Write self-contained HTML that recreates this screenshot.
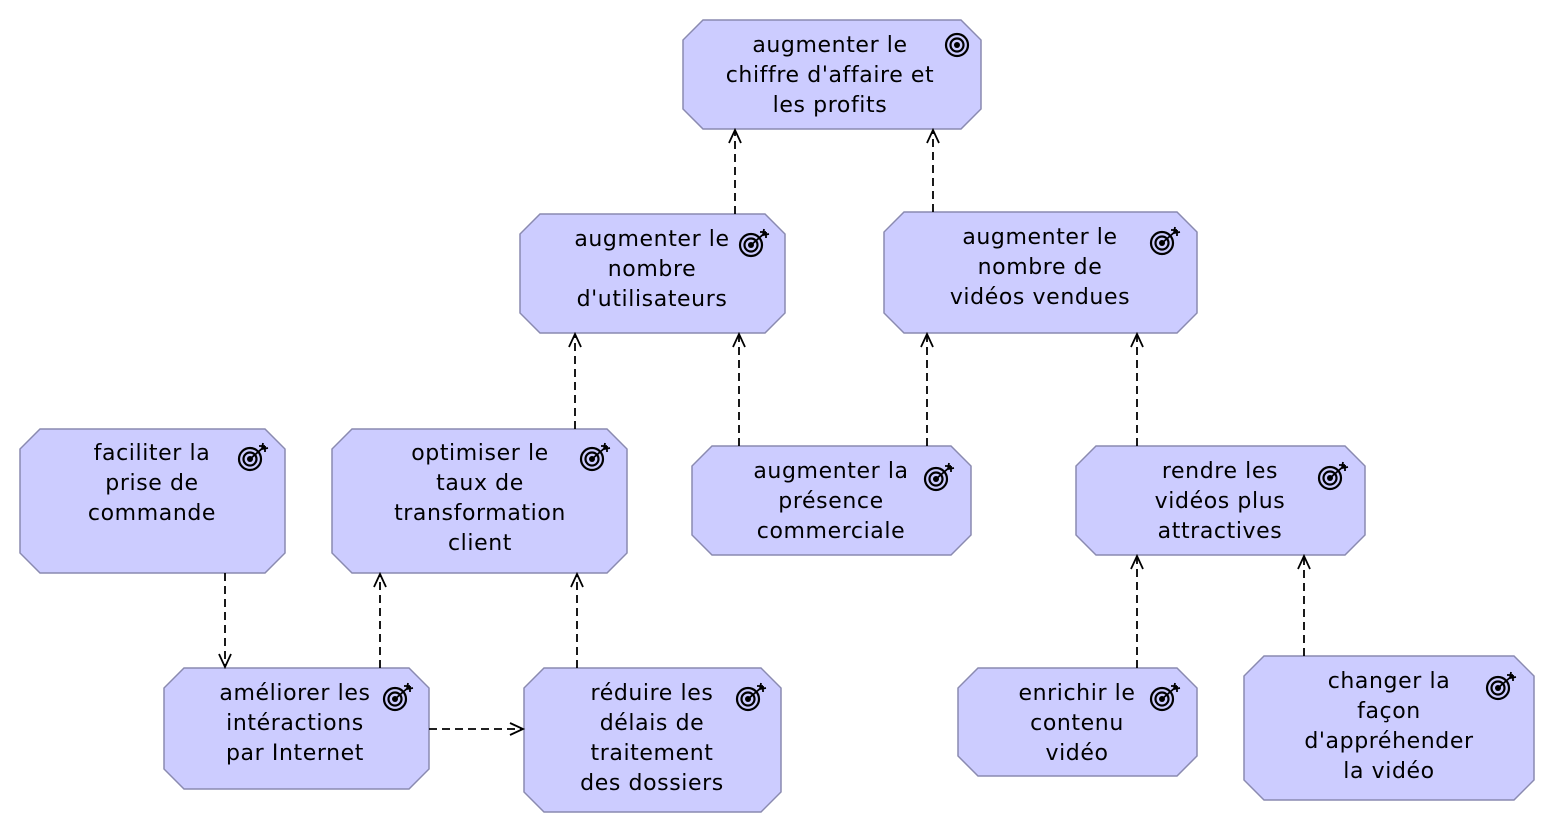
<!DOCTYPE html>
<html><head><meta charset="utf-8"><style>
html,body{margin:0;padding:0;background:#fff;}
svg{display:block;}
text{font-family:"DejaVu Sans","Liberation Sans",sans-serif;font-size:22px;letter-spacing:0.6px;fill:#000;text-anchor:middle;}
</style></head><body>
<svg width="1554" height="834" viewBox="0 0 1554 834" xmlns="http://www.w3.org/2000/svg">
<defs>
<g id="tg"><circle r="11" fill="none" stroke="#000" stroke-width="2.2"/><circle r="6.5" fill="none" stroke="#000" stroke-width="2.2"/><circle r="3" fill="#000"/></g>
<g id="ta"><use href="#tg"/><path d="M0 0 L15 -13 M15 -13 L9 -13 M15 -13 L15 -7 M13 -16 L12 -10 L18 -11" fill="none" stroke="#000" stroke-width="1.8"/></g>
</defs>
<g fill="#CCCCFF" stroke="#8a8ab0" stroke-width="1.5">
<polygon points="703,20 961,20 981,40 981,109 961,129 703,129 683,109 683,40"/>
<polygon points="540,214 765,214 785,234 785,313 765,333 540,333 520,313 520,234"/>
<polygon points="904,212 1177,212 1197,232 1197,313 1177,333 904,333 884,313 884,232"/>
<polygon points="40,429 265,429 285,449 285,553 265,573 40,573 20,553 20,449"/>
<polygon points="352,429 607,429 627,449 627,553 607,573 352,573 332,553 332,449"/>
<polygon points="712,446 951,446 971,466 971,535 951,555 712,555 692,535 692,466"/>
<polygon points="1096,446 1345,446 1365,466 1365,535 1345,555 1096,555 1076,535 1076,466"/>
<polygon points="184,668 409,668 429,688 429,769 409,789 184,789 164,769 164,688"/>
<polygon points="544,668 761,668 781,688 781,792 761,812 544,812 524,792 524,688"/>
<polygon points="978,668 1177,668 1197,688 1197,756 1177,776 978,776 958,756 958,688"/>
<polygon points="1264,656 1514,656 1534,676 1534,780 1514,800 1264,800 1244,780 1244,676"/>
</g>
<g stroke="#000" stroke-width="1.8" stroke-dasharray="8,5" fill="none">
<line x1="735" y1="214" x2="735" y2="131"/>
<line x1="933" y1="212" x2="933" y2="131"/>
<line x1="575" y1="429" x2="575" y2="335"/>
<line x1="739" y1="446" x2="739" y2="335"/>
<line x1="927" y1="446" x2="927" y2="335"/>
<line x1="1137" y1="446" x2="1137" y2="335"/>
<line x1="225" y1="573" x2="225" y2="666"/>
<line x1="380" y1="668" x2="380" y2="575"/>
<line x1="577" y1="668" x2="577" y2="575"/>
<line x1="429" y1="729" x2="522" y2="729"/>
<line x1="1137" y1="668" x2="1137" y2="557"/>
<line x1="1304" y1="656" x2="1304" y2="557"/>
</g>
<g stroke="#000" stroke-width="1.8" fill="none">
<path d="M729 143 L735 130 L741 143"/>
<path d="M927 143 L933 130 L939 143"/>
<path d="M569 347 L575 334 L581 347"/>
<path d="M733 347 L739 334 L745 347"/>
<path d="M921 347 L927 334 L933 347"/>
<path d="M1131 347 L1137 334 L1143 347"/>
<path d="M219 654 L225 667 L231 654"/>
<path d="M374 587 L380 574 L386 587"/>
<path d="M571 587 L577 574 L583 587"/>
<path d="M510 723 L523 729 L510 735"/>
<path d="M1131 569 L1137 556 L1143 569"/>
<path d="M1298 569 L1304 556 L1310 569"/>
</g>
<use href="#tg" x="957" y="45"/>
<use href="#ta" x="751" y="245"/>
<use href="#ta" x="1162" y="243"/>
<use href="#ta" x="250" y="459"/>
<use href="#ta" x="592" y="459"/>
<use href="#ta" x="936" y="479"/>
<use href="#ta" x="1330" y="478"/>
<use href="#ta" x="395" y="699"/>
<use href="#ta" x="748" y="699"/>
<use href="#ta" x="1162" y="699"/>
<use href="#ta" x="1498" y="688"/>
<text x="830" y="52">augmenter le</text><text x="830" y="82">chiffre d'affaire et</text><text x="830" y="112">les profits</text>
<text x="652" y="246">augmenter le</text><text x="652" y="276">nombre</text><text x="652" y="306">d'utilisateurs</text>
<text x="1040" y="244">augmenter le</text><text x="1040" y="274">nombre de</text><text x="1040" y="304">vidéos vendues</text>
<text x="152" y="460">faciliter la</text><text x="152" y="490">prise de</text><text x="152" y="520">commande</text>
<text x="480" y="460">optimiser le</text><text x="480" y="490">taux de</text><text x="480" y="520">transformation</text><text x="480" y="550">client</text>
<text x="831" y="478">augmenter la</text><text x="831" y="508">présence</text><text x="831" y="538">commerciale</text>
<text x="1220" y="478">rendre les</text><text x="1220" y="508">vidéos plus</text><text x="1220" y="538">attractives</text>
<text x="295" y="700">améliorer les</text><text x="295" y="730">intéractions</text><text x="295" y="760">par Internet</text>
<text x="652" y="700">réduire les</text><text x="652" y="730">délais de</text><text x="652" y="760">traitement</text><text x="652" y="790">des dossiers</text>
<text x="1077" y="700">enrichir le</text><text x="1077" y="730">contenu</text><text x="1077" y="760">vidéo</text>
<text x="1389" y="688">changer la</text><text x="1389" y="718">façon</text><text x="1389" y="748">d'appréhender</text><text x="1389" y="778">la vidéo</text>
</svg>
</body></html>
